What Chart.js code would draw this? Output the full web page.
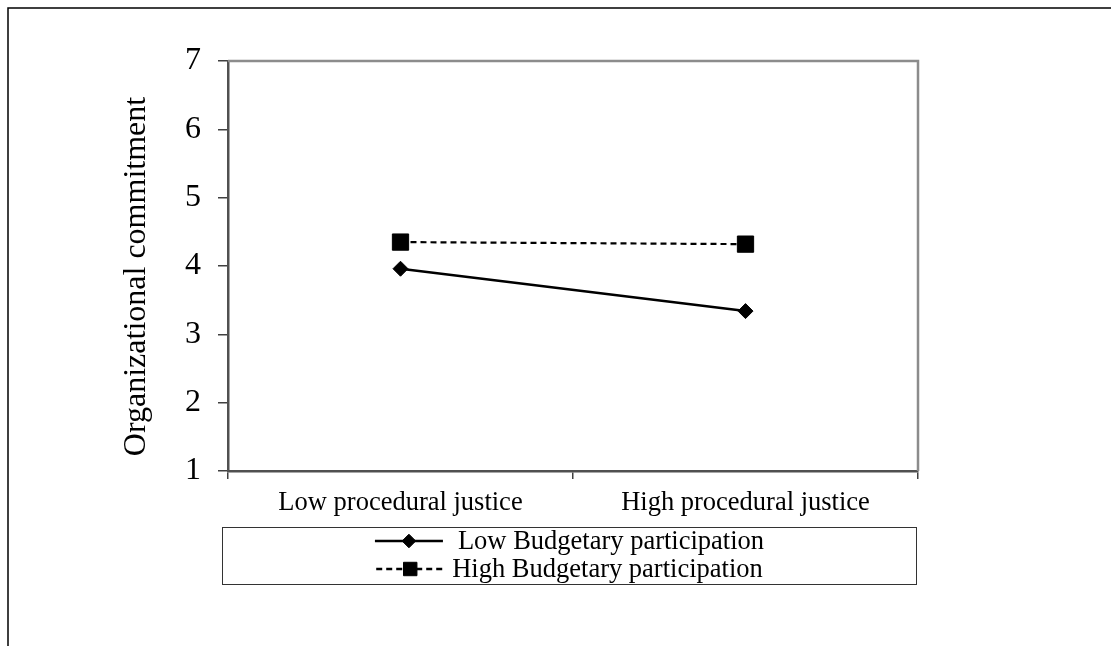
<!DOCTYPE html>
<html>
<head>
<meta charset="utf-8">
<script src="https://cdn.jsdelivr.net/npm/chart.js@4/dist/chart.umd.min.js"></script>
<style>
  html, body { margin: 0; padding: 0; background: #fff; }
  canvas { display: block; }
</style>
</head>
<body>
<canvas id="c" width="1111" height="646"></canvas>
<script>
const categories = ["Low procedural justice", "High procedural justice"];
const lowBudgetary = [3.96, 3.34];
const highBudgetary = [4.35, 4.32];
const seriesLabels = ["Low Budgetary participation", "High Budgetary participation"];
const yTicks = [1, 2, 3, 4, 5, 6, 7];
const yTitle = "Organizational commitment";

const FONT = "'Liberation Serif', 'Times New Roman', serif";

const bgPlugin = {
  id: 'bg',
  beforeDraw(chart) {
    const ctx = chart.ctx;
    ctx.save();
    ctx.fillStyle = '#fff';
    ctx.fillRect(0, 0, chart.width, chart.height);
    ctx.restore();
  },
  beforeDatasetsDraw(chart) {
    const {ctx, chartArea: a} = chart;
    ctx.save();
    ctx.strokeStyle = '#8c8c8c';
    ctx.lineWidth = 2.5;
    ctx.beginPath();
    ctx.moveTo(a.left, a.top);
    ctx.lineTo(a.right, a.top);
    ctx.lineTo(a.right, a.bottom);
    ctx.stroke();
    ctx.restore();
  },
  afterDraw(chart) {
    const ctx = chart.ctx;
    ctx.save();
    // outer frame
    ctx.strokeStyle = '#000';
    ctx.lineWidth = 1.5;
    ctx.strokeRect(8, 8, 1300, 800);
    // y axis title
    ctx.save();
    ctx.translate(145, 276.5);
    ctx.rotate(-Math.PI / 2);
    ctx.font = "32px " + FONT;
    ctx.textAlign = 'center';
    ctx.textBaseline = 'alphabetic';
    ctx.fillStyle = '#000';
    ctx.fillText(yTitle, 0, 0);
    ctx.restore();
    // legend box
    ctx.strokeStyle = '#333';
    ctx.lineWidth = 1;
    const bx = 222.5, by = 527.5, bw = 694, bh = 57;
    ctx.strokeRect(bx, by, bw, bh);
    ctx.font = "26.5px " + FONT;
    ctx.textBaseline = 'middle';
    ctx.fillStyle = '#000';
    const rows = [541, 569];
    const gaps = [15, 8];
    const markerR = [6.8, 9.5];
    const sampleW = 68;
    chart.data.datasets.forEach((ds, i) => {
      const tw = ctx.measureText(ds.label).width;
      const total = sampleW + gaps[i] + tw;
      const x0 = bx + bw / 2 - total / 2;
      const y = rows[i];
      ctx.save();
      ctx.strokeStyle = ds.borderColor;
      ctx.lineWidth = 2.5;
      ctx.setLineDash(ds.borderDash || []);
      ctx.beginPath();
      ctx.moveTo(x0, y);
      ctx.lineTo(x0 + sampleW, y);
      ctx.stroke();
      ctx.restore();
      ctx.fillStyle = '#000';
      ctx.strokeStyle = '#000';
      Chart.helpers.drawPoint(ctx, {
        pointStyle: ds.pointStyle,
        radius: markerR[i],
        borderWidth: 1
      }, x0 + sampleW / 2, y);
      ctx.fillStyle = '#000';
      ctx.fillText(ds.label, x0 + sampleW + gaps[i], y + 1);
    });
    ctx.restore();
  }
};

new Chart(document.getElementById('c'), {
  type: 'line',
  data: {
    labels: categories,
    datasets: [
      {
        label: seriesLabels[0],
        data: lowBudgetary,
        borderColor: '#000',
        backgroundColor: '#000',
        borderWidth: 2.5,
        pointStyle: 'rectRot',
        pointRadius: 7.5,
        pointBorderWidth: 1,
        pointBackgroundColor: '#000',
        pointBorderColor: '#000',
        tension: 0
      },
      {
        label: seriesLabels[1],
        data: highBudgetary,
        borderColor: '#000',
        backgroundColor: '#000',
        borderWidth: 2.2,
        borderDash: [6, 4],
        pointStyle: 'rect',
        pointRadius: 11.5,
        pointBorderWidth: 1,
        pointBackgroundColor: '#000',
        pointBorderColor: '#000',
        tension: 0
      }
    ]
  },
  options: {
    responsive: false,
    animation: false,
    events: [],
    layout: { padding: { left: 0, top: 61, right: 1111 - 918, bottom: 0 } },
    plugins: {
      legend: { display: false },
      tooltip: { enabled: false },
      title: { display: false }
    },
    scales: {
      x: {
        type: 'category',
        offset: true,
        afterFit(s) { s.height = 646 - 61 - 410; },
        grid: {
          offset: true,
          drawOnChartArea: false,
          drawTicks: true,
          tickLength: 8,
          color: '#404040',
          lineWidth: 1.5
        },
        border: { display: true, color: '#505050', width: 2.5 },
        ticks: {
          color: '#000',
          font: { family: FONT, size: 26.5 },
          padding: 8,
          maxRotation: 0,
          autoSkip: false
        }
      },
      y: {
        min: 1,
        max: 7,
        afterFit(s) { s.width = 228; },
        afterBuildTicks(s) { s.ticks = yTicks.map(v => ({ value: v })); },
        grid: {
          drawOnChartArea: false,
          drawTicks: true,
          tickLength: 10,
          color: '#404040',
          lineWidth: 1.5
        },
        border: { display: true, color: '#505050', width: 2.5 },
        ticks: {
          color: '#000',
          font: { family: FONT, size: 32 },
          padding: 17
        },
        title: { display: false }
      }
    }
  },
  plugins: [bgPlugin]
});
</script>
</body>
</html>
